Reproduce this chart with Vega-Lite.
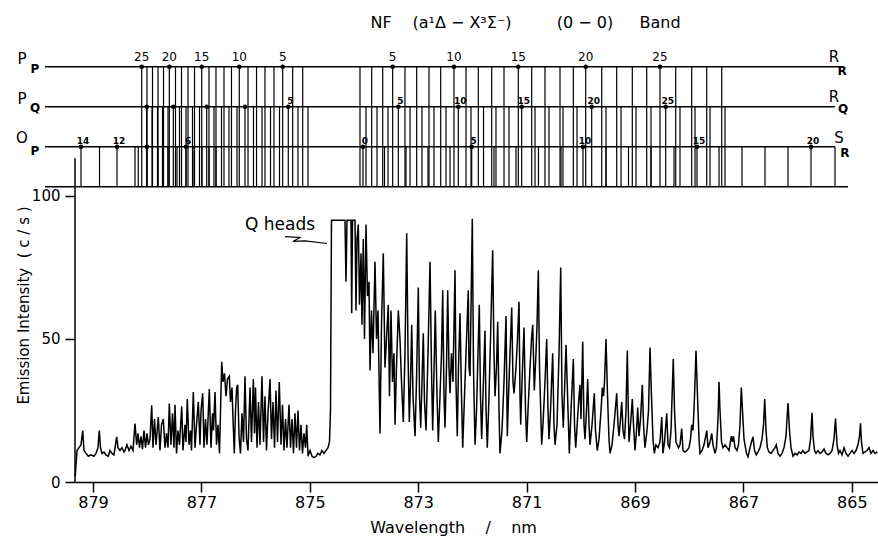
{
"$schema": "https://vega.github.io/schema/vega-lite/v6.json",
"width": 803,
"height": 482,
"autosize": "none",
"padding": {"left": 75, "top": 0, "right": 0, "bottom": 54},
"background": "white",
"config": {"view": {"stroke": null}, "font": "DejaVu Sans", "text": {"color": "black"}},
"datasets": {
"spectrum": [
{"wl":879.327,"v":2},{"wl":879.314,"v":6},{"wl":879.295,"v":11},{"wl":879.258,"v":12},{"wl":879.221,"v":13},{"wl":879.190,"v":18},{"wl":879.166,"v":11},{"wl":879.129,"v":10},{"wl":879.087,"v":9},{"wl":879.037,"v":9.5},{"wl":878.982,"v":9},{"wl":878.945,"v":10},{"wl":878.908,"v":12},{"wl":878.884,"v":18},{"wl":878.862,"v":12},{"wl":878.834,"v":10},{"wl":878.797,"v":10.5},{"wl":878.760,"v":9.5},{"wl":878.718,"v":9},{"wl":878.686,"v":11},{"wl":878.649,"v":10},{"wl":878.613,"v":9.5},{"wl":878.563,"v":15.8},{"wl":878.539,"v":12},{"wl":878.502,"v":11},{"wl":878.465,"v":12},{"wl":878.428,"v":10.5},{"wl":878.410,"v":11},{"wl":878.373,"v":13},{"wl":878.336,"v":11},{"wl":878.299,"v":12.5},{"wl":878.262,"v":11},{"wl":878.225,"v":20.4},{"wl":878.194,"v":13},{"wl":878.170,"v":17},{"wl":878.142,"v":12},{"wl":878.114,"v":16},{"wl":878.087,"v":11.5},{"wl":878.059,"v":18},{"wl":878.031,"v":12},{"wl":878.004,"v":17},{"wl":877.976,"v":13},{"wl":877.948,"v":15},{"wl":877.917,"v":26.8},{"wl":877.893,"v":12},{"wl":877.865,"v":22},{"wl":877.838,"v":13},{"wl":877.795,"v":22.7},{"wl":877.764,"v":11},{"wl":877.736,"v":20},{"wl":877.703,"v":22},{"wl":877.672,"v":12},{"wl":877.644,"v":17},{"wl":877.616,"v":12},{"wl":877.592,"v":27.4},{"wl":877.561,"v":13},{"wl":877.533,"v":24},{"wl":877.506,"v":12},{"wl":877.487,"v":27},{"wl":877.459,"v":10},{"wl":877.432,"v":18},{"wl":877.404,"v":13},{"wl":877.363,"v":26.5},{"wl":877.340,"v":11},{"wl":877.303,"v":20},{"wl":877.284,"v":14},{"wl":877.260,"v":29},{"wl":877.229,"v":13},{"wl":877.201,"v":18},{"wl":877.183,"v":11},{"wl":877.149,"v":31.5},{"wl":877.118,"v":12},{"wl":877.090,"v":20},{"wl":877.057,"v":28},{"wl":877.026,"v":13},{"wl":877.007,"v":25},{"wl":876.976,"v":31},{"wl":876.952,"v":12},{"wl":876.924,"v":22},{"wl":876.897,"v":13},{"wl":876.854,"v":32.5},{"wl":876.823,"v":12},{"wl":876.795,"v":24},{"wl":876.777,"v":18},{"wl":876.749,"v":31.5},{"wl":876.721,"v":13},{"wl":876.694,"v":20},{"wl":876.666,"v":10},{"wl":876.625,"v":42},{"wl":876.602,"v":35},{"wl":876.574,"v":38},{"wl":876.546,"v":30},{"wl":876.518,"v":36},{"wl":876.485,"v":37},{"wl":876.463,"v":28},{"wl":876.435,"v":33},{"wl":876.417,"v":22},{"wl":876.393,"v":10},{"wl":876.371,"v":25},{"wl":876.349,"v":33},
{"wl":876.330,"v":34},{"wl":876.306,"v":16},{"wl":876.279,"v":10},{"wl":876.251,"v":24},{"wl":876.223,"v":14},{"wl":876.196,"v":37},{"wl":876.168,"v":15},{"wl":876.140,"v":11},{"wl":876.103,"v":33},{"wl":876.076,"v":14},{"wl":876.042,"v":36},{"wl":876.020,"v":17},{"wl":876.002,"v":33},{"wl":875.974,"v":12},{"wl":875.947,"v":28},{"wl":875.919,"v":13},{"wl":875.882,"v":37},{"wl":875.854,"v":14},{"wl":875.827,"v":30},{"wl":875.799,"v":11},{"wl":875.771,"v":24},{"wl":875.734,"v":36},{"wl":875.707,"v":15},{"wl":875.679,"v":28},{"wl":875.651,"v":12},{"wl":875.624,"v":32},{"wl":875.596,"v":14},{"wl":875.563,"v":35},{"wl":875.531,"v":13},{"wl":875.504,"v":27},{"wl":875.476,"v":11},{"wl":875.448,"v":22},{"wl":875.421,"v":12},{"wl":875.384,"v":27},{"wl":875.356,"v":12},{"wl":875.328,"v":22},{"wl":875.301,"v":10},{"wl":875.273,"v":24},{"wl":875.245,"v":12},{"wl":875.218,"v":25},{"wl":875.190,"v":11},{"wl":875.162,"v":20},{"wl":875.135,"v":10},{"wl":875.107,"v":17},{"wl":875.079,"v":12},{"wl":875.057,"v":20},{"wl":875.033,"v":9},{"wl":874.996,"v":11},{"wl":874.959,"v":9},{"wl":874.923,"v":8.5},{"wl":874.886,"v":9},{"wl":874.849,"v":10},{"wl":874.812,"v":9.5},{"wl":874.775,"v":11},{"wl":874.738,"v":10},{"wl":874.701,"v":11},{"wl":874.664,"v":12},{"wl":874.637,"v":14},{"wl":874.618,"v":25},{"wl":874.609,"v":60},{"wl":874.600,"v":91.5},{"wl":874.351,"v":91.5},{"wl":874.332,"v":70},{"wl":874.314,"v":91.5},{"wl":874.240,"v":91.5},{"wl":874.227,"v":59},{"wl":874.212,"v":91.5},{"wl":874.166,"v":91.5},{"wl":874.148,"v":60},{"wl":874.129,"v":85},{"wl":874.105,"v":90},{"wl":874.083,"v":62},{"wl":874.055,"v":80},{"wl":874.037,"v":55},{"wl":874.013,"v":85},{"wl":873.991,"v":50},{"wl":873.963,"v":90},{"wl":873.936,"v":65},{"wl":873.908,"v":70},{"wl":873.889,"v":39},{"wl":873.862,"v":60},{"wl":873.834,"v":45},{"wl":873.797,"v":77},{"wl":873.769,"v":50},{"wl":873.742,"v":60},{"wl":873.705,"v":17},{"wl":873.677,"v":55},{"wl":873.644,"v":80},{"wl":873.613,"v":40},{"wl":873.585,"v":50},{"wl":873.552,"v":62},{"wl":873.530,"v":30},{"wl":873.502,"v":60},{"wl":873.474,"v":35},{"wl":873.447,"v":45},{"wl":873.428,"v":20},{"wl":873.401,"v":40},{"wl":873.367,"v":60},{"wl":873.336,"v":50},{"wl":873.308,"v":35},{"wl":873.275,"v":21},{"wl":873.244,"v":45},{"wl":873.212,"v":87},{"wl":873.188,"v":45},{"wl":873.164,"v":21},
{"wl":873.142,"v":35},{"wl":873.120,"v":55},{"wl":873.096,"v":30},{"wl":873.059,"v":16},{"wl":873.032,"v":35},{"wl":872.998,"v":68},{"wl":872.976,"v":30},{"wl":872.954,"v":19},{"wl":872.930,"v":35},{"wl":872.906,"v":52},{"wl":872.884,"v":28},{"wl":872.856,"v":18},{"wl":872.819,"v":45},{"wl":872.782,"v":77},{"wl":872.755,"v":40},{"wl":872.733,"v":18},{"wl":872.709,"v":38},{"wl":872.685,"v":60},{"wl":872.653,"v":30},{"wl":872.629,"v":14},{"wl":872.598,"v":30},{"wl":872.570,"v":45},{"wl":872.548,"v":67},{"wl":872.524,"v":30},{"wl":872.506,"v":19},{"wl":872.478,"v":40},{"wl":872.456,"v":67},{"wl":872.432,"v":40},{"wl":872.413,"v":31},{"wl":872.386,"v":45},{"wl":872.358,"v":35},{"wl":872.321,"v":74},{"wl":872.303,"v":35},{"wl":872.279,"v":16},{"wl":872.257,"v":40},{"wl":872.229,"v":59},{"wl":872.201,"v":30},{"wl":872.179,"v":12},{"wl":872.146,"v":30},{"wl":872.118,"v":45},{"wl":872.076,"v":67},{"wl":872.063,"v":40},{"wl":872.044,"v":37},{"wl":872.026,"v":60},{"wl":872.002,"v":92},{"wl":871.980,"v":40},{"wl":871.952,"v":13},{"wl":871.924,"v":25},{"wl":871.897,"v":45},{"wl":871.873,"v":62},{"wl":871.851,"v":30},{"wl":871.829,"v":15},{"wl":871.805,"v":30},{"wl":871.768,"v":53},{"wl":871.749,"v":25},{"wl":871.725,"v":12},{"wl":871.694,"v":30},{"wl":871.666,"v":50},{"wl":871.626,"v":81},{"wl":871.602,"v":45},{"wl":871.583,"v":30},{"wl":871.556,"v":40},{"wl":871.533,"v":56},{"wl":871.509,"v":25},{"wl":871.491,"v":10},{"wl":871.454,"v":18},{"wl":871.417,"v":35},{"wl":871.380,"v":58},{"wl":871.356,"v":16},{"wl":871.334,"v":30},{"wl":871.306,"v":45},{"wl":871.275,"v":61},{"wl":871.251,"v":35},{"wl":871.232,"v":31},{"wl":871.196,"v":40},{"wl":871.168,"v":50},{"wl":871.140,"v":63},{"wl":871.122,"v":30},{"wl":871.109,"v":20},{"wl":871.085,"v":35},{"wl":871.048,"v":54},{"wl":871.020,"v":25},{"wl":870.998,"v":14},{"wl":870.974,"v":25},{"wl":870.937,"v":40},{"wl":870.910,"v":50},{"wl":870.887,"v":55},{"wl":870.858,"v":32},{"wl":870.827,"v":45},{"wl":870.808,"v":55},{"wl":870.784,"v":74},{"wl":870.762,"v":40},{"wl":870.722,"v":13},{"wl":870.698,"v":20},{"wl":870.661,"v":35},{"wl":870.629,"v":50},{"wl":870.605,"v":25},{"wl":870.587,"v":15},{"wl":870.559,"v":25},{"wl":870.519,"v":45},{"wl":870.495,"v":20},{"wl":870.476,"v":13},{"wl":870.439,"v":20},{"wl":870.402,"v":45},{"wl":870.371,"v":75},{"wl":870.347,"v":30},{"wl":870.323,"v":19},{"wl":870.273,"v":48},{"wl":870.236,"v":25},{"wl":870.212,"v":10},
{"wl":870.181,"v":25},{"wl":870.138,"v":43},{"wl":870.116,"v":20},{"wl":870.094,"v":12},{"wl":870.061,"v":22},{"wl":870.033,"v":30},{"wl":870.015,"v":34},{"wl":869.996,"v":22},{"wl":869.965,"v":49},{"wl":869.941,"v":20},{"wl":869.923,"v":15},{"wl":869.895,"v":25},{"wl":869.873,"v":36},{"wl":869.849,"v":20},{"wl":869.830,"v":13},{"wl":869.793,"v":20},{"wl":869.751,"v":31},{"wl":869.729,"v":18},{"wl":869.696,"v":11},{"wl":869.664,"v":15},{"wl":869.627,"v":25},{"wl":869.603,"v":33},{"wl":869.581,"v":30},{"wl":869.563,"v":35},{"wl":869.535,"v":50},{"wl":869.507,"v":30},{"wl":869.480,"v":15},{"wl":869.461,"v":10},{"wl":869.424,"v":13},{"wl":869.388,"v":20},{"wl":869.338,"v":31},{"wl":869.314,"v":20},{"wl":869.295,"v":16},{"wl":869.268,"v":22},{"wl":869.245,"v":28},{"wl":869.221,"v":18},{"wl":869.194,"v":15},{"wl":869.166,"v":25},{"wl":869.142,"v":46},{"wl":869.124,"v":25},{"wl":869.111,"v":14},{"wl":869.083,"v":20},{"wl":869.050,"v":29},{"wl":869.028,"v":20},{"wl":869.000,"v":11},{"wl":868.972,"v":18},{"wl":868.950,"v":26},{"wl":868.926,"v":16},{"wl":868.899,"v":22},{"wl":868.865,"v":34},{"wl":868.843,"v":20},{"wl":868.816,"v":12},{"wl":868.779,"v":18},{"wl":868.751,"v":25},{"wl":868.723,"v":47},{"wl":868.696,"v":30},{"wl":868.668,"v":15},{"wl":868.644,"v":10},{"wl":868.613,"v":13},{"wl":868.576,"v":12},{"wl":868.539,"v":14},{"wl":868.507,"v":22.7},{"wl":868.484,"v":10},{"wl":868.456,"v":14},{"wl":868.415,"v":24},{"wl":868.391,"v":13},{"wl":868.364,"v":12},{"wl":868.336,"v":18},{"wl":868.294,"v":43},{"wl":868.271,"v":25},{"wl":868.244,"v":14},{"wl":868.198,"v":12},{"wl":868.170,"v":13},{"wl":868.139,"v":18.7},{"wl":868.115,"v":11},{"wl":868.078,"v":10.5},{"wl":868.041,"v":11},{"wl":868.004,"v":12},{"wl":867.976,"v":15},{"wl":867.954,"v":20},{"wl":867.930,"v":18},{"wl":867.902,"v":30},{"wl":867.875,"v":46},{"wl":867.847,"v":30},{"wl":867.819,"v":15},{"wl":867.801,"v":10},{"wl":867.764,"v":11},{"wl":867.727,"v":13},{"wl":867.677,"v":18},{"wl":867.653,"v":12},{"wl":867.616,"v":14},{"wl":867.585,"v":17},{"wl":867.561,"v":13},{"wl":867.524,"v":10},{"wl":867.497,"v":12},{"wl":867.469,"v":22},{"wl":867.450,"v":35},{"wl":867.432,"v":25},{"wl":867.404,"v":14},{"wl":867.377,"v":12},{"wl":867.340,"v":13},{"wl":867.303,"v":12},{"wl":867.266,"v":11},{"wl":867.224,"v":16},{"wl":867.201,"v":14},{"wl":867.183,"v":16},{"wl":867.155,"v":12},{"wl":867.118,"v":11},{"wl":867.091,"v":13},{"wl":867.063,"v":20},{"wl":867.039,"v":33},{"wl":867.017,"v":25},{"wl":866.989,"v":15},{"wl":866.971,"v":13},{"wl":866.943,"v":10},{"wl":866.915,"v":8.8},{"wl":866.878,"v":12},{"wl":866.851,"v":14},{"wl":866.823,"v":15.8},{"wl":866.795,"v":11},{"wl":866.762,"v":9.5},{"wl":866.731,"v":10.5},{"wl":866.694,"v":12},{"wl":866.657,"v":15},{"wl":866.629,"v":20},{"wl":866.607,"v":29},{"wl":866.583,"v":18},{"wl":866.559,"v":12},{"wl":866.528,"v":10.5},{"wl":866.491,"v":10},{"wl":866.454,"v":11},{"wl":866.417,"v":12},{"wl":866.393,"v":13},{"wl":866.362,"v":10},{"wl":866.325,"v":9},{"wl":866.288,"v":10},{"wl":866.251,"v":12},{"wl":866.214,"v":16},{"wl":866.196,"v":22},{"wl":866.177,"v":27.6},{"wl":866.150,"v":18},{"wl":866.122,"v":12},{"wl":866.085,"v":9},{"wl":866.048,"v":10},{"wl":866.011,"v":9.5},{"wl":865.974,"v":10.5},{"wl":865.937,"v":10},{"wl":865.901,"v":11},{"wl":865.864,"v":10},{"wl":865.827,"v":10.5},{"wl":865.790,"v":11},{"wl":865.762,"v":15},{"wl":865.734,"v":24.2},{"wl":865.716,"v":16},{"wl":865.688,"v":11},{"wl":865.661,"v":10},{"wl":865.624,"v":11},{"wl":865.587,"v":10},{"wl":865.550,"v":10.5},{"wl":865.513,"v":11.5},{"wl":865.476,"v":10},{"wl":865.439,"v":9.5},{"wl":865.402,"v":10},{"wl":865.365,"v":11},{"wl":865.329,"v":15},{"wl":865.301,"v":22.2},{"wl":865.273,"v":13},{"wl":865.245,"v":10},{"wl":865.218,"v":11},{"wl":865.181,"v":9.5},{"wl":865.144,"v":12},{"wl":865.107,"v":10},{"wl":865.070,"v":9},{"wl":865.033,"v":10},{"wl":864.996,"v":11},{"wl":864.960,"v":10},{"wl":864.923,"v":11},{"wl":864.886,"v":13},{"wl":864.858,"v":16},{"wl":864.840,"v":20.5},{"wl":864.822,"v":14},{"wl":864.794,"v":10},{"wl":864.757,"v":10.5},{"wl":864.720,"v":11},{"wl":864.683,"v":12},{"wl":864.646,"v":10},{"wl":864.609,"v":11},{"wl":864.572,"v":10},{"wl":864.529,"v":10.5}
],
"branches": [
{"branch":"PP","v":145.2},{"branch":"RR","v":145.2},{"branch":"PQ","v":131.2},{"branch":"RQ","v":131.2},{"branch":"OP","v":117.2},{"branch":"SR","v":117.2}
],
"levels": [
{"wl":879.886,"wl2":865.181,"v":145.2},{"wl":879.886,"wl2":865.310,"v":131.2},{"wl":879.886,"wl2":865.310,"v":117.2},{"wl":879.886,"wl2":865.070,"v":103.25}
],
"ladder": [
{"branch":"PP","wl":878.101},{"branch":"PP","wl":878.004},{"branch":"PP","wl":877.902},{"branch":"PP","wl":877.801},{"branch":"PP","wl":877.699},{"branch":"PP","wl":877.592},{"branch":"PP","wl":877.478},{"branch":"PP","wl":877.367},{"branch":"PP","wl":877.247},{"branch":"PP","wl":877.127},{"branch":"PP","wl":876.994},{"branch":"PP","wl":876.860},{"branch":"PP","wl":876.731},{"branch":"PP","wl":876.583},{"branch":"PP","wl":876.445},{"branch":"PP","wl":876.301},{"branch":"PP","wl":876.140},{"branch":"PP","wl":875.983},{"branch":"PP","wl":875.827},{"branch":"PP","wl":875.661},{"branch":"PP","wl":875.500},{"branch":"PP","wl":875.316},{"branch":"PP","wl":875.131},
{"branch":"PQ","wl":878.009},{"branch":"PQ","wl":877.911},{"branch":"PQ","wl":877.810},{"branch":"PQ","wl":877.718},{"branch":"PQ","wl":877.616},{"branch":"PQ","wl":877.518},{"branch":"PQ","wl":877.404},{"branch":"PQ","wl":877.284},{"branch":"PQ","wl":877.164},{"branch":"PQ","wl":877.035},{"branch":"PQ","wl":876.902},{"branch":"PQ","wl":876.768},{"branch":"PQ","wl":876.629},{"branch":"PQ","wl":876.491},{"branch":"PQ","wl":876.343},{"branch":"PQ","wl":876.196},{"branch":"PQ","wl":876.039},{"branch":"PQ","wl":875.882},{"branch":"PQ","wl":875.725},{"branch":"PQ","wl":875.559},{"branch":"PQ","wl":875.397},{"branch":"PQ","wl":875.218},{"branch":"PQ","wl":875.033},
{"branch":"OP","wl":879.221},{"branch":"OP","wl":878.880},{"branch":"OP","wl":878.557},{"branch":"OP","wl":878.225},{"branch":"OP","wl":878.165},{"branch":"OP","wl":878.004},{"branch":"OP","wl":877.801},{"branch":"OP","wl":877.616},{"branch":"OP","wl":877.450},{"branch":"OP","wl":877.284},{"branch":"OP","wl":877.137},{"branch":"OP","wl":876.989},{"branch":"OP","wl":876.860},{"branch":"OP","wl":876.731},
{"branch":"RR","wl":874.074},{"branch":"RR","wl":873.858},{"branch":"RR","wl":873.655},{"branch":"RR","wl":873.471},{"branch":"RR","wl":873.244},{"branch":"RR","wl":873.028},{"branch":"RR","wl":872.801},{"branch":"RR","wl":872.585},{"branch":"RR","wl":872.340},{"branch":"RR","wl":872.118},{"branch":"RR","wl":871.891},{"branch":"RR","wl":871.644},{"branch":"RR","wl":871.417},{"branch":"RR","wl":871.153},{"branch":"RR","wl":870.906},{"branch":"RR","wl":870.661},{"branch":"RR","wl":870.384},{"branch":"RR","wl":870.138},{"branch":"RR","wl":869.910},{"branch":"RR","wl":869.614},{"branch":"RR","wl":869.338},{"branch":"RR","wl":869.050},{"branch":"RR","wl":868.784},{"branch":"RR","wl":868.539},{"branch":"RR","wl":868.249},{"branch":"RR","wl":867.954},{"branch":"RR","wl":867.677},{"branch":"RR","wl":867.400},
{"branch":"RQ","wl":873.963},{"branch":"RQ","wl":873.760},{"branch":"RQ","wl":873.557},{"branch":"RQ","wl":873.367},{"branch":"RQ","wl":873.151},{"branch":"RQ","wl":872.930},{"branch":"RQ","wl":872.709},{"branch":"RQ","wl":872.487},{"branch":"RQ","wl":872.260},{"branch":"RQ","wl":872.026},{"branch":"RQ","wl":871.795},{"branch":"RQ","wl":871.565},{"branch":"RQ","wl":871.325},{"branch":"RQ","wl":871.091},{"branch":"RQ","wl":870.845},{"branch":"RQ","wl":870.587},{"branch":"RQ","wl":870.329},{"branch":"RQ","wl":870.070},{"branch":"RQ","wl":869.799},{"branch":"RQ","wl":869.535},{"branch":"RQ","wl":869.258},{"branch":"RQ","wl":868.982},{"branch":"RQ","wl":868.705},{"branch":"RQ","wl":868.434},{"branch":"RQ","wl":868.170},{"branch":"RQ","wl":867.893},{"branch":"RQ","wl":867.616},{"branch":"RQ","wl":867.340},
{"branch":"SR","wl":874.019},{"branch":"SR","wl":873.622},{"branch":"SR","wl":873.225},{"branch":"SR","wl":872.819},{"branch":"SR","wl":872.413},{"branch":"SR","wl":872.013},{"branch":"SR","wl":871.602},{"branch":"SR","wl":871.196},{"branch":"SR","wl":870.781},{"branch":"SR","wl":870.365},{"branch":"SR","wl":869.960},{"branch":"SR","wl":869.535},{"branch":"SR","wl":869.120},{"branch":"SR","wl":868.705},{"branch":"SR","wl":868.281},{"branch":"SR","wl":867.856},{"branch":"SR","wl":867.450},{"branch":"SR","wl":867.026},{"branch":"SR","wl":866.602},{"branch":"SR","wl":866.177},{"branch":"SR","wl":865.753},{"branch":"SR","wl":865.310}
],
"marks": [
{"branch":"PP","wl":878.101,"lab":"25"},{"branch":"PP","wl":877.592,"lab":"20"},{"branch":"PP","wl":876.994,"lab":"15"},{"branch":"PP","wl":876.301,"lab":"10"},{"branch":"PP","wl":875.500,"lab":"5"},
{"branch":"RR","wl":873.471,"lab":"5"},{"branch":"RR","wl":872.340,"lab":"10"},{"branch":"RR","wl":871.153,"lab":"15"},{"branch":"RR","wl":869.910,"lab":"20"},{"branch":"RR","wl":868.539,"lab":"25"},
{"branch":"PQ","wl":878.009,"lab":""},{"branch":"PQ","wl":877.518,"lab":""},{"branch":"PQ","wl":876.902,"lab":""},{"branch":"PQ","wl":876.196,"lab":""},{"branch":"PQ","wl":875.397,"lab":"5"},
{"branch":"RQ","wl":873.367,"lab":"5"},{"branch":"RQ","wl":872.260,"lab":"10"},{"branch":"RQ","wl":871.091,"lab":"15"},{"branch":"RQ","wl":869.799,"lab":"20"},{"branch":"RQ","wl":868.434,"lab":"25"},
{"branch":"OP","wl":879.221,"lab":"14"},{"branch":"OP","wl":878.557,"lab":"12"},{"branch":"OP","wl":878.004,"lab":""},{"branch":"OP","wl":877.284,"lab":"6"},
{"branch":"SR","wl":874.019,"lab":"0"},{"branch":"SR","wl":872.013,"lab":"5"},{"branch":"SR","wl":869.960,"lab":"10"},{"branch":"SR","wl":867.856,"lab":"15"},{"branch":"SR","wl":865.753,"lab":"20"}
],
"names": [
{"t":"P","wl":880.310,"v":146.2,"kind":"main"},{"t":"P","wl":880.070,"v":143.0,"kind":"sub"},
{"t":"P","wl":880.310,"v":132.3,"kind":"main"},{"t":"Q","wl":880.070,"v":129.3,"kind":"sub"},
{"t":"O","wl":880.310,"v":118.7,"kind":"main"},{"t":"P","wl":880.070,"v":114.5,"kind":"sub"},
{"t":"R","wl":865.329,"v":146.7,"kind":"main"},{"t":"R","wl":865.181,"v":142.3,"kind":"sub"},
{"t":"R","wl":865.329,"v":133.0,"kind":"main"},{"t":"Q","wl":865.163,"v":129.1,"kind":"sub"},
{"t":"S","wl":865.236,"v":118.7,"kind":"main"},{"t":"R","wl":865.126,"v":113.6,"kind":"sub"}
],
"titles": [
{"t":"NF","wl":873.686,"v":160.5},{"t":"(a¹Δ − X³Σ⁻)","wl":872.192,"v":160.5},{"t":"(0 − 0)","wl":869.923,"v":160.5},{"t":"Band","wl":868.539,"v":160.5}
],
"arrow": [
{"i":1,"wl":875.458,"v":85.8},{"i":2,"wl":875.181,"v":85.5},{"i":3,"wl":875.310,"v":84.1},{"i":4,"wl":875.089,"v":84.3},{"i":5,"wl":874.683,"v":83.4}
]
},
"encoding": {
"x": {"field":"wl","type":"quantitative",
 "scale":{"domain":[864.517,879.332],"reverse":true,"nice":false,"zero":false},
 "axis":{"values":[865,867,869,871,873,875,877,879],"format":"d","title":"Wavelength\u00a0\u00a0\u00a0\u00a0/\u00a0\u00a0\u00a0\u00a0nm","grid":false,"tickSize":10,"tickWidth":1.5,"domainWidth":1.5,"domainColor":"black","tickColor":"black","labelColor":"black","titleColor":"black","labelFontSize":16,"labelPadding":2,"labelFlush":false,"titleFontSize":16,"titleFontWeight":"normal","titleX":378,"titleY":45,"titleAlign":"center","titleBaseline":"middle"}},
"y": {"field":"v","type":"quantitative",
 "scale":{"domain":[0,168.53],"nice":false,"zero":false},
 "axis":{"values":[0,50,100],"title":"Emission Intensity\u00a0\u00a0(\u00a0c\u00a0/\u00a0s\u00a0)","grid":false,"domain":false,"tickSize":10,"tickWidth":1.5,"tickColor":"black","labelColor":"black","titleColor":"black","labelFontSize":15,"labelPadding":5,"titleFontSize":15,"titleFontWeight":"normal","titleAngle":-90,"titleX":-52,"titleY":305,"titleAlign":"center","titleBaseline":"middle"}}
},
"layer": [
{"data":{"name":"spectrum"},"mark":{"type":"line","color":"black","strokeWidth":1.5}},
{"data":{"values":[{"wl":879.332,"v":0,"v2":113.2}]},"mark":{"type":"rule","color":"black","strokeWidth":1.5},"encoding":{"y2":{"field":"v2"}}},
{"data":{"name":"levels"},"mark":{"type":"rule","color":"black","strokeWidth":1.4},"encoding":{"x2":{"field":"wl2"}}},
{"data":{"name":"ladder"},"transform":[{"lookup":"branch","from":{"data":{"name":"branches"},"key":"branch","fields":["v"]}}],"mark":{"type":"rule","color":"black","strokeWidth":1.2},"encoding":{"y2":{"datum":103.25}}},
{"data":{"name":"marks"},"transform":[{"lookup":"branch","from":{"data":{"name":"branches"},"key":"branch","fields":["v"]}}],"mark":{"type":"point","filled":true,"color":"black","size":22,"opacity":1}},
{"data":{"name":"marks"},"transform":[{"lookup":"branch","from":{"data":{"name":"branches"},"key":"branch","fields":["v"]}},{"filter":"datum.branch === 'PP' || datum.branch === 'RR'"}],"mark":{"type":"text","fontSize":12,"baseline":"bottom","dy":-3,"color":"black"},"encoding":{"text":{"field":"lab"}}},
{"data":{"name":"marks"},"transform":[{"lookup":"branch","from":{"data":{"name":"branches"},"key":"branch","fields":["v"]}},{"filter":"datum.branch !== 'PP' && datum.branch !== 'RR'"}],"mark":{"type":"text","fontSize":9,"fontWeight":"bold","baseline":"bottom","dy":-1,"dx":2,"color":"black"},"encoding":{"text":{"field":"lab"}}},
{"data":{"name":"names"},"transform":[{"filter":"datum.kind === 'main'"}],"mark":{"type":"text","fontSize":15,"baseline":"alphabetic","align":"center","color":"black"},"encoding":{"text":{"field":"t"}}},
{"data":{"name":"names"},"transform":[{"filter":"datum.kind === 'sub'"}],"mark":{"type":"text","fontSize":12,"fontWeight":"bold","baseline":"alphabetic","align":"center","color":"black"},"encoding":{"text":{"field":"t"}}},
{"data":{"name":"titles"},"mark":{"type":"text","fontSize":16,"baseline":"middle","align":"center","color":"black"},"encoding":{"text":{"field":"t"}}},
{"data":{"values":[{"t":"Q heads","wl":875.550,"v":89.9}]},"mark":{"type":"text","fontSize":17,"baseline":"middle","align":"center","color":"black"},"encoding":{"text":{"field":"t"}}},
{"data":{"name":"arrow"},"mark":{"type":"line","color":"black","strokeWidth":1.2},"encoding":{"order":{"field":"i"}}}
]
}
